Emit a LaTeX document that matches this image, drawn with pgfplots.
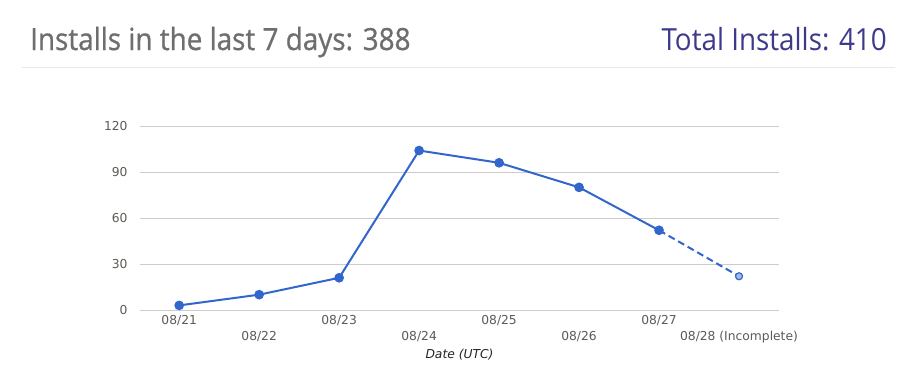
\documentclass[border=0pt]{standalone}
\usepackage{fontspec}
\setmainfont{DejaVu Sans}
\newfontfamily\titlefont[FakeStretch=0.912]{Open Sans}
\newfontfamily\titlefontb[FakeStretch=0.914, FakeBold=0.8]{Open Sans}
\usepackage{pgfplots}
\pgfplotsset{compat=1.18}
\definecolor{lineblue}{HTML}{3366CC}
\definecolor{gridgray}{HTML}{CCCCCC}
\definecolor{ticktxt}{HTML}{5E5A55}
\definecolor{titlegray}{HTML}{6E6E6E}
\definecolor{titleblue}{HTML}{3D3A8C}
\definecolor{sepgray}{HTML}{E8E8E8}
\begin{document}
\begin{tikzpicture}[x=1bp,y=1bp]
\path[fill=white] (0,0) rectangle (917,389);
\node[anchor=base west, inner sep=0pt, text=titlegray, font={\titlefontb\fontsize{30.5bp}{34bp}\selectfont}] at (30,339) {Installs in the last 7 days: 388};
\node[anchor=base east, inner sep=0pt, text=titleblue, font={\titlefont\fontsize{30.5bp}{34bp}\selectfont}] at (887,339) {Total Installs: 410};
\draw[sepgray, line width=1bp] (22,322) -- (895,322);
\begin{axis}[
  at={(140bp,79bp)}, anchor=south west,
  scale only axis, width=639bp, height=184bp,
  xmin=-0.49, xmax=7.5, ymin=0, ymax=120,
  ytick={0,30,60,90,120},
  xtick={0,2,4,6},
  xticklabels={08/21,08/23,08/25,08/27},
  extra x ticks={1,3,5,7},
  extra x tick labels={08/22,08/24,08/26,08/28 (Incomplete)},
  extra x tick style={grid=none, xticklabel style={yshift=-16bp}},
  ymajorgrids, major grid style={gridgray, line width=0.8bp},
  major tick length=0pt,
  axis line style={draw=none},
  tick label style={text=ticktxt, font=\fontsize{12.3bp}{14bp}\selectfont},
  xticklabel style={yshift=-2bp},
  yticklabel style={xshift=-9bp},
  /pgf/number format/assume math mode=true,
  xlabel={Date (UTC)},
  xlabel style={at={(axis description cs:0.5,0)}, anchor=center, yshift=-45bp, font=\itshape\fontsize{12.3bp}{14bp}\selectfont, text=black!85},
  clip=false,
]
\addplot[lineblue, line width=2bp, mark=*, mark size=3.8bp, mark options={solid, fill=lineblue}] coordinates {
(0,3) (1,10) (2,21) (3,104) (4,96) (5,80) (6,52)
};
\addplot[lineblue, line width=2bp, dash pattern=on 7bp off 4bp] coordinates {
(6,52) (7,22)
};
\addplot[lineblue, only marks, mark=*, mark size=3.5bp, mark options={solid, fill=lineblue!45!white, draw=lineblue, line width=1.2bp}] coordinates {
(7,22)
};
\end{axis}
\end{tikzpicture}
\end{document}
